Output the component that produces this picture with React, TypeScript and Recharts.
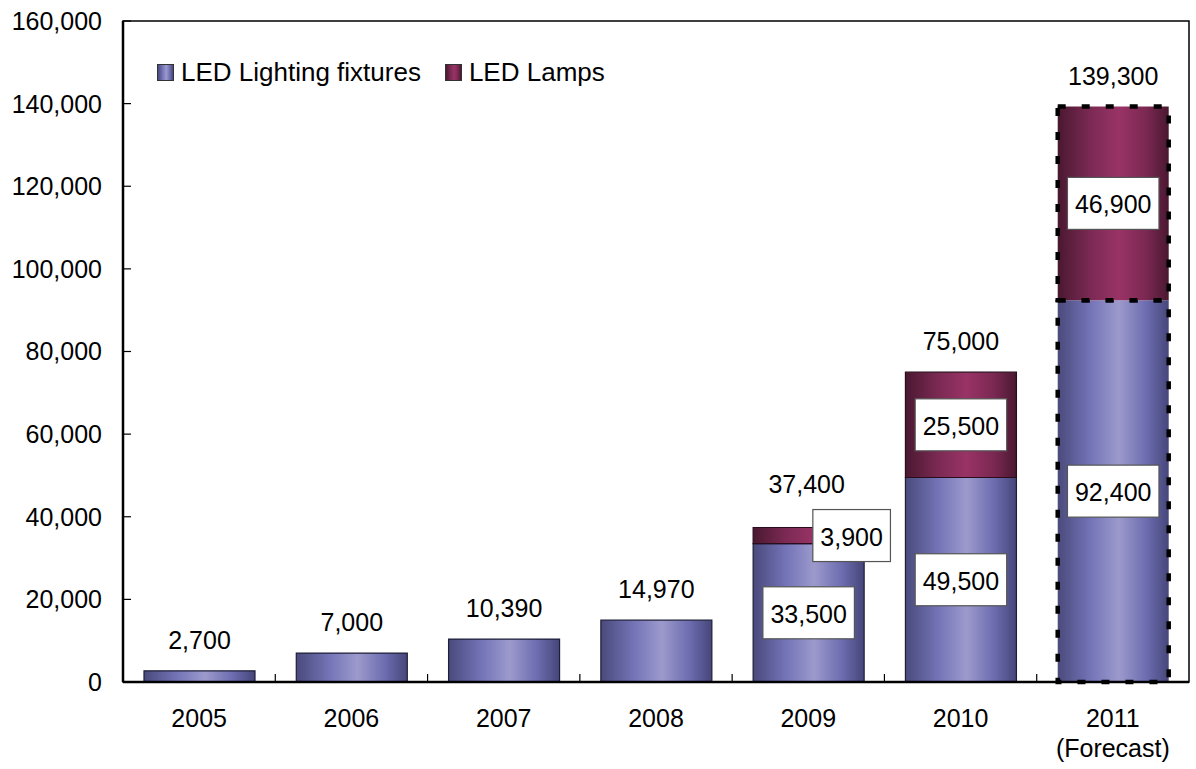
import React from "react";
import { BarChart, Bar, XAxis, YAxis, LabelList, Legend, ReferenceArea, Cell } from "recharts";

const years = ["2005", "2006", "2007", "2008", "2009", "2010", "2011"];
const fixtures = [2700, 7000, 10390, 14970, 33500, 49500, 92400];
const lamps = [0, 0, 0, 0, 3900, 25500, 46900];
const totals = [2700, 7000, 10390, 14970, 37400, 75000, 139300];
const yTicks = [0, 20000, 40000, 60000, 80000, 100000, 120000, 140000, 160000];
const seriesNames = ["LED Lighting fixtures", "LED Lamps"];

const data = years.map((year, i) => ({
  year,
  fixtures: fixtures[i],
  lamps: lamps[i],
  total: totals[i],
}));

const FONT = '"Liberation Sans", Arial, sans-serif';
const fmt = (v: number) => v.toLocaleString("en-US");

function YearTick(props: any) {
  const { x, y, payload, index, width, visibleTicksCount } = props;
  const band = width / (visibleTicksCount || years.length);
  return (
    <g>
      {index > 0 && <line x1={x - band / 2} x2={x - band / 2} y1={y} y2={y - 8} stroke="#000" strokeWidth={1.2} />}
      <text x={x} y={y + 36} textAnchor="middle" dominantBaseline="central" fontSize={25} fontFamily={FONT} fill="#000">
        {payload.value}
      </text>
      {payload.value === "2011" && (
        <text x={x} y={y + 66} textAnchor="middle" dominantBaseline="central" fontSize={25} fontFamily={FONT} fill="#000">
          (Forecast)
        </text>
      )}
    </g>
  );
}

function Box({ cx, cy, value }: { cx: number; cy: number; value: number }) {
  const label = fmt(value);
  const digits = label.replace(",", "").length;
  const w = digits * 13.9 + 7 + 15;
  return (
    <g>
      <rect x={cx - w / 2} y={cy - 26} width={w} height={52} fill="#fff" stroke="#555" strokeWidth={1.2} />
      <text x={cx} y={cy + 1} textAnchor="middle" dominantBaseline="central" fontSize={25} fontFamily={FONT} fill="#000">
        {label}
      </text>
    </g>
  );
}

// fixtures segment: boxed value from 2009 on, plus the stack total above the bar
function FixturesLabel(props: any) {
  const { x, y, width, height, value, index } = props;
  const total = totals[index];
  const topY = y + height - (height * total) / value;
  const up = index === 4 ? 43 : 31;
  return (
    <g>
      {index >= 4 && <Box cx={x + width / 2} cy={y + height / 2} value={value} />}
      <text x={x + width / 2 + (index === 4 ? -2 : 0)} y={topY - up} textAnchor="middle" dominantBaseline="central" fontSize={25} fontFamily={FONT} fill="#000">
        {fmt(total)}
      </text>
    </g>
  );
}

// lamps segment: boxed value, pushed to the right when the segment is too thin
function LampsLabel(props: any) {
  const { x, y, width, height, value } = props;
  if (!value) return null;
  const shift = height < 40 ? 43 : 0;
  return <Box cx={x + width / 2 + shift} cy={y + height / 2} value={value} />;
}

const blueCss = "linear-gradient(to right, #4a4a7c, #7474b8 30%, #9c9acc 55%, #6c6cb0 80%, #46467a)";
const purpleCss = "linear-gradient(to right, #4a1830, #7c2a54 30%, #993366 55%, #7a2852 80%, #4a1830)";

function LegendBox() {
  const item = (bg: string, name: string, gap: number) => (
    <div style={{ display: "flex", alignItems: "center", marginRight: gap }}>
      <div style={{ width: 15, height: 15, background: bg, border: "1px solid #333", marginRight: 7 }} />
      <span style={{ fontSize: 26, fontFamily: FONT, color: "#000", lineHeight: "28px" }}>{name}</span>
    </div>
  );
  return (
    <div style={{ display: "flex", alignItems: "center" }}>
      {item(blueCss, seriesNames[0], 24)}
      {item(purpleCss, seriesNames[1], 0)}
    </div>
  );
}

const forecastEdge = { stroke: "#000", strokeWidth: 4.5, strokeDasharray: "8 16" };

export default function App() {
  return (
    <div style={{ position: "absolute", left: 0, top: 0, width: 1196, height: 769, background: "#fff" }}>
      <BarChart width={1196} height={769} data={data} margin={{ top: 21, right: 7, bottom: 0, left: 0 }}>
        <defs>
          <linearGradient id="gBlue" x1="0" y1="0" x2="1" y2="0">
            <stop offset="0%" stopColor="#4a4a7c" />
            <stop offset="30%" stopColor="#7474b8" />
            <stop offset="55%" stopColor="#9c9acc" />
            <stop offset="80%" stopColor="#6c6cb0" />
            <stop offset="100%" stopColor="#46467a" />
          </linearGradient>
          <linearGradient id="gPurple" x1="0" y1="0" x2="1" y2="0">
            <stop offset="0%" stopColor="#4a1830" />
            <stop offset="30%" stopColor="#7c2a54" />
            <stop offset="55%" stopColor="#993366" />
            <stop offset="80%" stopColor="#7a2852" />
            <stop offset="100%" stopColor="#4a1830" />
          </linearGradient>
        </defs>
        <XAxis dataKey="year" tickLine={false} tickSize={0} tickMargin={0} interval={0} height={87} axisLine={{ stroke: "#000", strokeWidth: 2.5 }} tick={<YearTick />} />
        <YAxis
          domain={[0, 160000]}
          ticks={yTicks}
          interval={0}
          width={123}
          tickSize={-8}
          tickMargin={29}
          tickFormatter={fmt}
          axisLine={{ stroke: "#000", strokeWidth: 2.5 }}
          tickLine={{ stroke: "#000", strokeWidth: 1.2 }}
          tick={{ fill: "#000", fontSize: 25, fontFamily: FONT }}
        />
        <ReferenceArea y1={0} y2={160000} fill="none" stroke="#000" strokeWidth={1.5} />
        <Legend layout="horizontal" verticalAlign="middle" align="center" wrapperStyle={{ top: 58, left: 157, width: "auto" }} content={<LegendBox />} />
        <Bar dataKey="fixtures" name={seriesNames[0]} stackId="a" barSize={111} fill="url(#gBlue)" stroke="#1e1e38" strokeWidth={1.2} isAnimationActive={false}>
          {data.map((d, i) => (
            <Cell key={d.year} {...(i === 6 ? forecastEdge : {})} />
          ))}
          <LabelList dataKey="fixtures" content={FixturesLabel} />
        </Bar>
        <Bar dataKey="lamps" name={seriesNames[1]} stackId="a" barSize={111} fill="url(#gPurple)" stroke="#2a0c1c" strokeWidth={1.2} isAnimationActive={false}>
          {data.map((d, i) => (
            <Cell key={d.year} {...(i === 6 ? forecastEdge : {})} />
          ))}
          <LabelList dataKey="lamps" content={LampsLabel} />
        </Bar>
      </BarChart>
    </div>
  );
}
